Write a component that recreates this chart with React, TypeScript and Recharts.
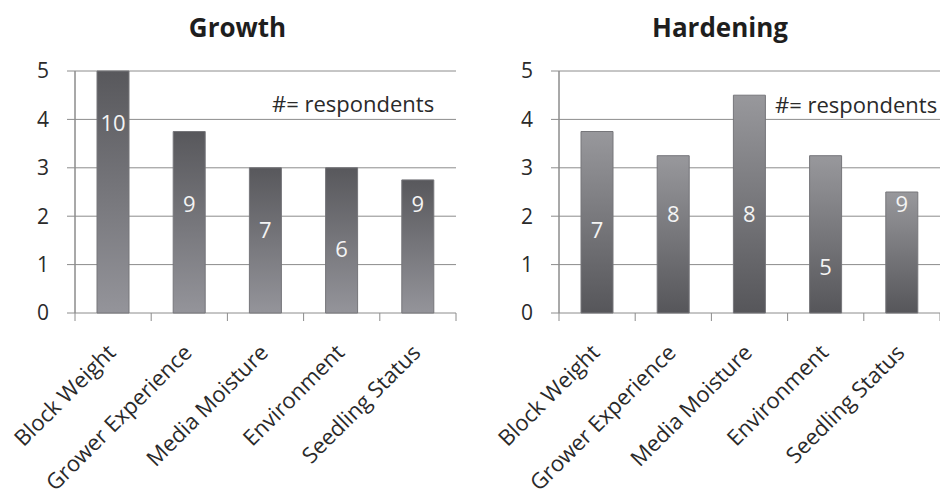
import React from 'react';
import { BarChart, Bar, XAxis, YAxis, CartesianGrid, LabelList } from 'recharts';

const categories = ['Block Weight', 'Grower Experience', 'Media Moisture', 'Environment', 'Seedling Status'];
const growthValues = [5, 3.75, 3, 3, 2.75];
const growthRespondents = [10, 9, 7, 6, 9];
const growthLabelLevels = [3.93, 2.26, 1.72, 1.33, 2.26];
const hardeningValues = [3.75, 3.25, 4.5, 3.25, 2.5];
const hardeningRespondents = [7, 8, 8, 5, 9];
const hardeningLabelLevels = [1.72, 2.05, 2.05, 0.95, 2.26];
const yTicks = [0, 1, 2, 3, 4, 5];
const noteText = '#= respondents';

const FONT = "'Open Sans', sans-serif";
const GRID = '#8c8c8c';

const CHART_W = 470;
const CHART_H = 495;
const MARGIN_TOP = 71;
const X_AXIS_H = 182;
const PLOT_H = CHART_H - MARGIN_TOP - X_AXIS_H;

type PanelProps = {
  title: string;
  values: number[];
  counts: number[];
  levels: number[];
  gradId: string;
  darkTop: boolean;
  yAxisWidth: number;
  marginRight: number;
  titleX: number;
  noteX: number;
  noteY: number;
  left: number;
};

const XTick = (props: any) => {
  const { x, y, payload, index, visibleTicksCount } = props;
  const cx = Number(x);
  const cy = Number(y);
  const half = Number(payload?.offset ?? 0);
  const isFirst = index === 0;
  const isLast = index === (visibleTicksCount ?? categories.length) - 1;
  const lx = cx - half;
  return (
    <g>
      <line x1={lx} y1={isFirst ? cy - PLOT_H : cy} x2={lx} y2={cy + 8} stroke={GRID} strokeWidth={1} />
      {isLast && <line x1={cx + half} y1={cy} x2={cx + half} y2={cy + 8} stroke={GRID} strokeWidth={1} />}
      <g transform={`translate(${cx + 4},${cy + 41})`}>
        <text textAnchor="end" transform="rotate(-45)" fill="#2a2a2a" fontSize={22} fontFamily={FONT}>
          {payload.value}
        </text>
      </g>
    </g>
  );
};

const makeLabel = (values: number[], levels: number[]) => (props: any) => {
  const { x, y, width, height, value, index } = props;
  const bx = Number(x), by = Number(y), bw = Number(width), bh = Number(height);
  const cy = by + bh * (1 - levels[index] / values[index]);
  return (
    <text x={bx + bw / 2} y={cy} dy="0.36em" textAnchor="middle" fill="#f4f4f4" fontSize={22} fontFamily={FONT}>
      {value}
    </text>
  );
};

const Panel = (p: PanelProps) => {
  const data = categories.map((name, i) => ({ name, v: p.values[i], n: p.counts[i] }));
  const top = p.darkTop ? '#58585c' : '#98989c';
  const bottom = p.darkTop ? '#94949a' : '#56565a';
  return (
    <div style={{ position: 'absolute', left: p.left, top: 0, width: CHART_W, height: CHART_H }}>
      <BarChart
        width={CHART_W}
        height={CHART_H}
        data={data}
        margin={{ top: MARGIN_TOP, right: p.marginRight, bottom: 0, left: 0 }}
        barCategoryGap={0}
      >
        <defs>
          <linearGradient id={p.gradId} x1="0" y1="0" x2="0" y2="1">
            <stop offset="0%" stopColor={top} />
            <stop offset="100%" stopColor={bottom} />
          </linearGradient>
        </defs>
        <CartesianGrid horizontal vertical={false} stroke={GRID} strokeWidth={1} />
        <XAxis
          dataKey="name"
          height={X_AXIS_H}
          axisLine={false}
          tickLine={false}
          tickSize={0}
          tickMargin={0}
          interval={0}
          tick={<XTick />}
        />
        <YAxis
          width={p.yAxisWidth}
          domain={[0, 5]}
          ticks={yTicks}
          tickSize={8}
          tickMargin={18}
          stroke={GRID}
          axisLine={{ stroke: GRID }}
          tickLine={{ stroke: GRID }}
          tick={{ fill: '#2a2a2a', fontSize: 21, fontFamily: FONT }}
        />
        <Bar dataKey="v" barSize={32} fill={`url(#${p.gradId})`} stroke="#76767a" strokeWidth={1} isAnimationActive={false}>
          <LabelList dataKey="n" content={makeLabel(p.values, p.levels)} />
        </Bar>
      </BarChart>
      <svg width={CHART_W} height={CHART_H} style={{ position: 'absolute', left: 0, top: 0, pointerEvents: 'none' }}>
        <text x={p.titleX} y={37} textAnchor="middle" fontSize={26} fontWeight="bold" fill="#1e1e1e" fontFamily={FONT}>
          {p.title}
        </text>
        <text x={p.noteX} y={p.noteY} fontSize={22} fill="#2a2a2a" fontFamily={FONT}>
          {noteText}
        </text>
      </svg>
    </div>
  );
};

export default function App() {
  return (
    <div style={{ position: 'absolute', left: 0, top: 0, width: 940, height: 495, background: '#fff', overflow: 'hidden' }}>
      <Panel
        title="Growth"
        values={growthValues}
        counts={growthRespondents}
        levels={growthLabelLevels}
        gradId="gGrowth"
        darkTop
        yAxisWidth={75}
        marginRight={14}
        titleX={237.5}
        noteX={272}
        noteY={112}
        left={0}
      />
      <Panel
        title="Hardening"
        values={hardeningValues}
        counts={hardeningRespondents}
        levels={hardeningLabelLevels}
        gradId="gHard"
        darkTop={false}
        yAxisWidth={89}
        marginRight={0}
        titleX={250}
        noteX={305}
        noteY={113}
        left={470}
      />
    </div>
  );
}
